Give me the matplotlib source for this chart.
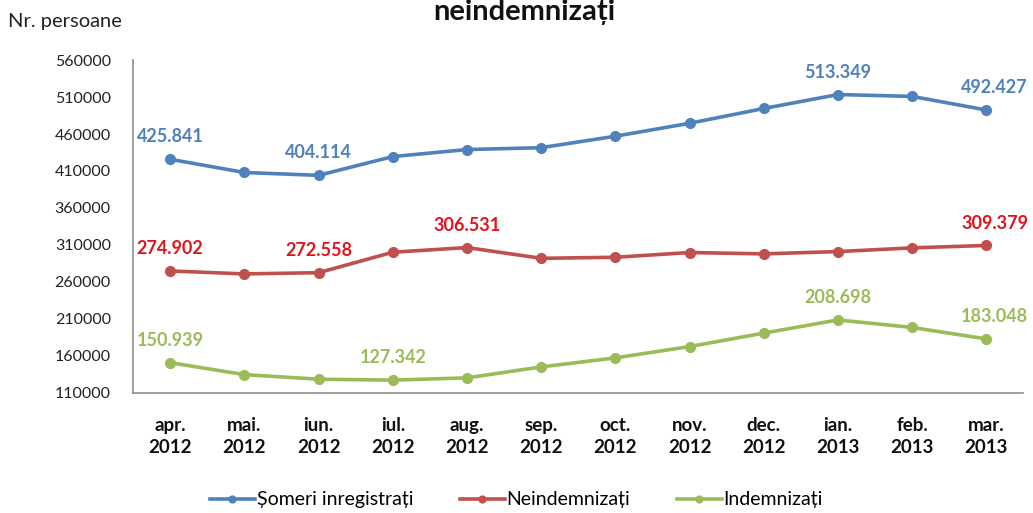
import matplotlib
matplotlib.use("Agg")
import matplotlib.pyplot as plt

plt.rcParams['font.family'] = ['Lato', 'DejaVu Sans']

# Date ----------------------------->>>>>
luni = ["apr.\n2012", "mai.\n2012", "iun.\n2012", "iul.\n2012", "aug.\n2012", "sep.\n2012",
        "oct.\n2012", "nov.\n2012", "dec.\n2012", "ian.\n2013", "feb.\n2013", "mar.\n2013"]

someri = [425841, 408000, 404114, 429500, 439000, 441500, 457000, 474500, 494500, 513349, 510800, 492427]
neindemnizati = [274902, 270900, 272558, 300200, 306531, 292000, 293400, 299800, 298000, 301100, 306100, 309379]
indemnizati = [150939, 134800, 128600, 127342, 130400, 145200, 157400, 172700, 190900, 208698, 198500, 183048]

# indicii punctelor cu eticheta
etichete_someri = [0, 2, 9, 11]
etichete_neind = [0, 2, 4, 11]
etichete_ind = [0, 3, 9, 11]

y_ticks = [110000, 160000, 210000, 260000, 310000, 360000, 410000, 460000, 510000, 560000]

# Culori
c_blue = "#4F81BD"
c_red = "#C0504D"
c_red_txt = "#E0141E"
c_green = "#9BBB59"

# Figura ----------------------------->>>>>
fig = plt.figure(figsize=(10.33, 5.13), dpi=100)
ax = fig.add_axes([0.1288, 0.234, 0.862, 0.649])

x = list(range(len(luni)))

serii = [
    (someri, "Șomeri inregistrați", c_blue, c_blue, etichete_someri),
    (neindemnizati, "Neindemnizați", c_red, c_red_txt, etichete_neind),
    (indemnizati, "Indemnizați", c_green, c_green, etichete_ind),
]

for vals, nume, culoare, culoare_txt, idx in serii:
    ax.plot(x, vals, color=culoare, lw=2.6, marker='o', markersize=7, label=nume)
    for i in idx:
        txt = f"{vals[i] / 1000:.3f}"
        dx = 6 if i == len(x) - 1 else 0
        ax.annotate(txt, (x[i], vals[i]), xytext=(dx, 10), textcoords='offset points',
                    ha='center', va='bottom', color=culoare_txt, fontsize=13, fontweight='bold')

ax.set_xlim(-0.5, len(x) - 0.5)
ax.set_ylim(110000, 560000)
ax.set_yticks(y_ticks)
ax.set_yticklabels([str(v) for v in y_ticks], fontsize=11.5, color="#222222")
ax.set_xticks(x)
ax.set_xticklabels(luni, fontsize=13.5, fontweight='bold', color="#111111", linespacing=1.4)
ax.tick_params(axis='x', length=0, pad=17)
ax.tick_params(axis='y', length=0, pad=16)

for s in ['top', 'right']:
    ax.spines[s].set_visible(False)
for s in ['left', 'bottom']:
    ax.spines[s].set_color("#8c8c8c")
    ax.spines[s].set_linewidth(1.2)

# Titlu si eticheta axei
fig.text(0.508, 1 - 20 / 513, "neindemnizați", ha='center', va='baseline',
         fontsize=21, fontweight='bold', color="#111111")
fig.text(0.008, 1 - 22 / 513, "Nr. persoane", ha='left', va='center', fontsize=14.5, color="#222222")

# Legenda
fig.legend(loc='center', bbox_to_anchor=(0.5, 1 - 500 / 513), ncol=3, frameon=False,
           fontsize=14, handlelength=2.3, handletextpad=0.1, columnspacing=2.4,
           markerscale=0.7)

fig.savefig("out.png", dpi=100)
